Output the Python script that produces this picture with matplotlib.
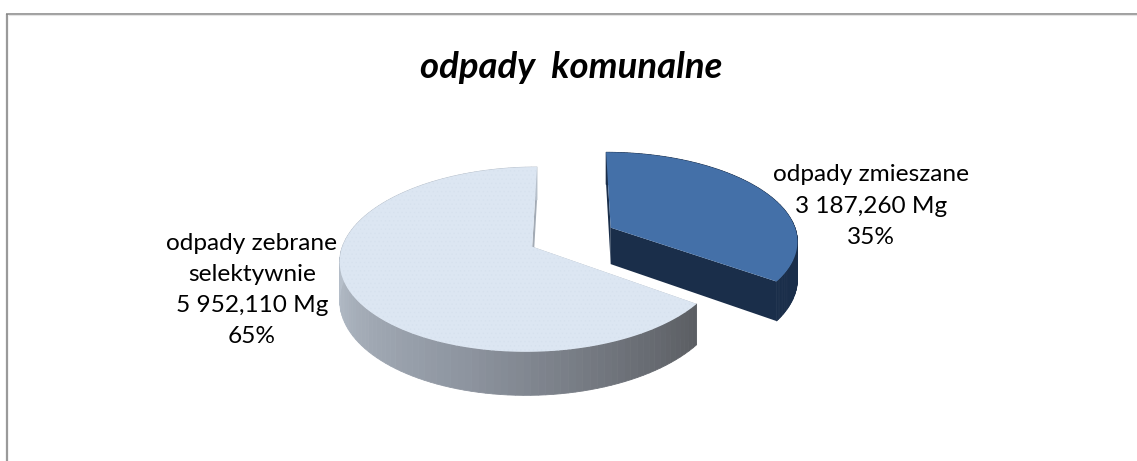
import numpy as np
import matplotlib.pyplot as plt
from matplotlib.patches import Polygon
from matplotlib.colors import LinearSegmentedColormap

plt.rcParams['font.family'] = ['Lato', 'DejaVu Sans']
plt.rcParams['hatch.linewidth'] = 0.4

# data
title = 'odpady  komunalne'
categories = ['odpady zmieszane', 'odpady zebrane\nselektywnie']
values = [3187260, 5952110]
value_labels = ['3 187,260 Mg', '5 952,110 Mg']
percent_labels = ['35%', '65%']

# 3D pie projection (pixels of the picture)
XC, YC = 572, 237
RX, RY = 187, 88
PERSP = 0.136
DEPTH = 37
EXPLODE = 0.236


def project(x, y, z=0):
    w = 1 + PERSP * y
    return XC + RX * x / w, YC - RY * y / w + z * DEPTH / w


def slice_points(start, end, bisect, n=120):
    # angles clockwise from 12 o'clock, in radians
    ox, oy = EXPLODE * np.sin(bisect), EXPLODE * np.cos(bisect)
    th = np.linspace(start, end, n)
    return th, ox + np.sin(th), oy + np.cos(th), ox, oy


fig = plt.figure(figsize=(11.37, 4.61), dpi=100)
ax = fig.add_axes([0, 0, 1, 1])
ax.set_xlim(0, 1137)
ax.set_ylim(461, 0)
ax.axis('off')

# frame
ax.plot([7, 7], [461, 14], color='#9a9a9a', lw=1.6, solid_capstyle='butt')
ax.plot([6, 1137], [14, 14], color='#858585', lw=1.1, solid_capstyle='butt')
ax.plot([9, 1137], [15.5, 15.5], color='#e4e4e4', lw=0.8)

top_colors = ['#4470a8', '#dce6f2']
hatch_colors = ['#4470a8', '#d6e1ee']
face_colors = ['#1a2e4a', '#a3abb5']
rim_cmap = LinearSegmentedColormap.from_list(
    'rim', [(0, '#5b5e63'), (0.1, '#6b6f76'), (0.3, '#8e95a0'),
            (0.6, '#b7c0cb'), (1, '#b7c0cb')])
blue_cmap = LinearSegmentedColormap.from_list('rim2', ['#1a2e4a', '#1a2e4a'])

fractions = np.array(values) / sum(values)
edges = np.concatenate([[0], np.cumsum(fractions)]) * 2 * np.pi

for i in range(2):
    start, end = edges[i], edges[i + 1]
    bisect = (start + end) / 2
    th, x, y, ox, oy = slice_points(start, end, bisect)

    # flat inner faces
    for k in (0, -1):
        quad = [project(ox, oy), project(x[k], y[k]),
                project(x[k], y[k], 1), project(ox, oy, 1)]
        ax.add_patch(Polygon(quad, facecolor=face_colors[i], edgecolor='none', zorder=2))

    # outer rim, shaded along the angle
    cmap = blue_cmap if i == 0 else rim_cmap
    for j in range(len(th) - 1):
        quad = [project(x[j], y[j]), project(x[j + 1], y[j + 1]),
                project(x[j + 1], y[j + 1], 1), project(x[j], y[j], 1)]
        t = (th[j] - start) / (end - start)
        c = cmap(t)
        ax.add_patch(Polygon(quad, facecolor=c, edgecolor=c, lw=0.6, zorder=3))

    # top face
    px, py = project(np.r_[ox, x], np.r_[oy, y])
    ax.add_patch(Polygon(np.column_stack([px, py]), facecolor=top_colors[i],
                         edgecolor=hatch_colors[i], hatch='....' if i == 1 else None,
                         lw=0, zorder=4))

# texts
ax.text(571, 67, title, ha='center', va='center', fontsize=26.3,
        fontweight='bold', fontstyle='italic', color='black')
ax.text(871, 206, categories[0] + '\n' + value_labels[0] + '\n' + percent_labels[0],
        ha='center', va='center', fontsize=17.6, linespacing=1.6, color='black')
ax.text(252, 290, categories[1] + '\n' + value_labels[1] + '\n' + percent_labels[1],
        ha='center', va='center', fontsize=17.6, linespacing=1.6, color='black')

plt.savefig('out.png', dpi=100)
